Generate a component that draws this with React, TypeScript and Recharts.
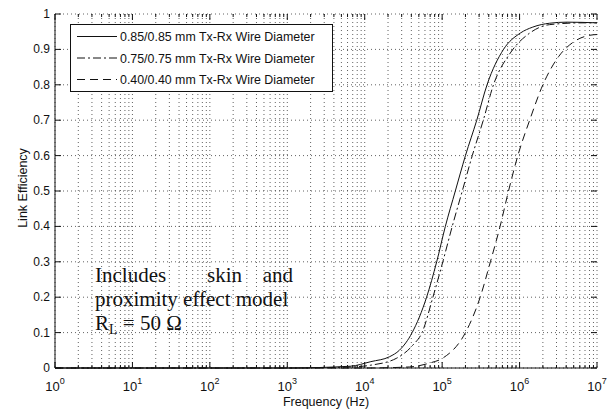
import React from 'react';
import { LineChart, Line, XAxis, YAxis, CartesianGrid } from 'recharts';

// ---- data (frequency in Hz, link efficiency) ----
const solidFreq = [1, 1e3, 6.5e3, 1.2e4, 2.1e4, 2.8e4, 4.1e4, 6.3e4, 8.5e4, 1.1e5, 1.48e5, 2.0e5, 2.8e5, 3.8e5, 6.2e5, 1.02e6, 1.48e6, 2.45e6, 4.1e6, 1e7];
const solidEff = [0, 0, 0.005, 0.018, 0.032, 0.05, 0.1, 0.2, 0.3, 0.4, 0.5, 0.6, 0.7, 0.8, 0.9, 0.946, 0.963, 0.974, 0.977, 0.975];

const dashDotFreq = [1, 1e3, 7e3, 1.2e4, 2.6e4, 4.2e4, 5.5e4, 7.6e4, 1.02e5, 1.35e5, 1.82e5, 2.45e5, 3.4e5, 4.6e5, 7.6e5, 1.35e6, 2.45e6, 6.6e6, 1e7];
const dashDotEff = [0, 0, 0.003, 0.008, 0.028, 0.065, 0.1, 0.2, 0.3, 0.4, 0.5, 0.6, 0.7, 0.8, 0.89, 0.946, 0.97, 0.975, 0.975];

const dashedFreq = [1, 1e3, 1e4, 3.8e4, 6.9e4, 1.02e5, 2.0e5, 3.1e5, 4.2e5, 5.6e5, 7.2e5, 9.5e5, 1.35e6, 2.0e6, 3.2e6, 4.9e6, 8.1e6, 1e7];
const dashedEff = [0, 0, 0, 0.003, 0.014, 0.028, 0.1, 0.2, 0.3, 0.4, 0.5, 0.6, 0.7, 0.8, 0.88, 0.92, 0.94, 0.942];

const seriesNames = [
  '0.85/0.85 mm Tx-Rx Wire Diameter',
  '0.75/0.75 mm Tx-Rx Wire Diameter',
  '0.40/0.40 mm Tx-Rx Wire Diameter',
];

const decades = [1, 10, 100, 1000, 1e4, 1e5, 1e6];
const mantissas = [1, 2, 3, 4, 5, 6, 7, 8, 9];
const xTicks = [...decades.flatMap((d) => mantissas.map((m) => m * d)), 1e7];
const yTicks = [0, 0.1, 0.2, 0.3, 0.4, 0.5, 0.6, 0.7, 0.8, 0.9, 1];
const yTickLabels = ['0', '0.1', '0.2', '0.3', '0.4', '0.5', '0.6', '0.7', '0.8', '0.9', '1'];

const toData = (fs: number[], vs: number[]) => fs.map((f, i) => ({ f, v: vs[i] }));
const solidData = toData(solidFreq, solidEff);
const dashDotData = toData(dashDotFreq, dashDotEff);
const dashedData = toData(dashedFreq, dashedEff);

// ---- layout ----
const W = 608;
const H = 412;
const PLOT_TOP = 14;
const PLOT_BOTTOM = 368;
const PLOT_LEFT = 55;
const PLOT_RIGHT = 597;
const SANS = '"Liberation Sans", Arial, Helvetica, sans-serif';
const SERIF = '"Liberation Serif", "Times New Roman", serif';
const INK = '#111';

const XTick = (props: any) => {
  const { x, payload } = props;
  const v = payload.value as number;
  const lg = Math.log10(v);
  const exp = Math.round(lg);
  const major = Math.abs(lg - exp) < 1e-6;
  const len = major ? 6 : 3;
  return (
    <g>
      <line x1={x} y1={PLOT_BOTTOM} x2={x} y2={PLOT_BOTTOM - len} stroke={INK} strokeWidth={1} />
      <line x1={x} y1={PLOT_TOP} x2={x} y2={PLOT_TOP + len} stroke={INK} strokeWidth={1} />
      {major && (
        <text x={x} y={391} textAnchor="middle" fontFamily={SANS} fontSize={13} fill={INK}>
          <tspan>10</tspan>
          <tspan dy={-7} fontSize={9}>{String(exp)}</tspan>
        </text>
      )}
    </g>
  );
};

const YTick = (props: any) => {
  const { y, payload } = props;
  const idx = yTicks.findIndex((t) => Math.abs(t - payload.value) < 1e-9);
  return (
    <g>
      <line x1={PLOT_LEFT} y1={y} x2={PLOT_LEFT + 6} y2={y} stroke={INK} strokeWidth={1} />
      <line x1={PLOT_RIGHT} y1={y} x2={PLOT_RIGHT - 6} y2={y} stroke={INK} strokeWidth={1} />
      <text x={PLOT_LEFT - 5} y={y + 4} textAnchor="end" fontFamily={SANS} fontSize={12} fill={INK}>
        {idx >= 0 ? yTickLabels[idx] : ''}
      </text>
    </g>
  );
};

const legendStyles = [
  { dash: undefined as string | undefined },
  { dash: '8 3 2 3' },
  { dash: '8 5' },
];

export default function App() {
  return (
    <div style={{ position: 'absolute', left: 0, top: 0, width: W, height: H, background: '#fff' }}>
      <LineChart
        width={W}
        height={H}
        margin={{ top: PLOT_TOP, right: W - PLOT_RIGHT, bottom: 14, left: 5 }}
        style={{ background: '#fff' }}
      >
        <CartesianGrid stroke="#3a3a3a" strokeDasharray="1 3" strokeWidth={0.8} />
        <XAxis
          dataKey="f"
          type="number"
          scale="log"
          domain={[1, 1e7]}
          allowDataOverflow
          ticks={xTicks}
          interval={0}
          tick={<XTick />}
          tickLine={false}
          axisLine={{ stroke: INK, strokeWidth: 1 }}
          height={30}
          label={{
            content: (p: any) => {
              const vb = p.viewBox || { x: PLOT_LEFT, width: PLOT_RIGHT - PLOT_LEFT };
              return (
                <text x={vb.x + vb.width / 2} y={406} textAnchor="middle" fontFamily={SANS} fontSize={12.5} fill={INK}>
                  Frequency (Hz)
                </text>
              );
            },
          }}
        />
        <XAxis
          xAxisId="top"
          orientation="top"
          dataKey="f"
          type="number"
          scale="log"
          domain={[1, 1e7]}
          allowDataOverflow
          tick={false}
          tickLine={false}
          height={0}
          axisLine={{ stroke: INK, strokeWidth: 1 }}
        />
        <YAxis
          type="number"
          domain={[0, 1]}
          ticks={yTicks}
          interval={0}
          tick={<YTick />}
          tickLine={false}
          axisLine={{ stroke: INK, strokeWidth: 1 }}
          width={50}
          label={{
            content: (p: any) => {
              const vb = p.viewBox || { y: PLOT_TOP, height: PLOT_BOTTOM - PLOT_TOP };
              const cy = vb.y + vb.height / 2 - 3;
              return (
                <text
                  x={27}
                  y={cy}
                  transform={`rotate(-90 27 ${cy})`}
                  textAnchor="middle"
                  fontFamily={SANS}
                  fontSize={12.5}
                  fill={INK}
                >
                  Link Efficiency
                </text>
              );
            },
          }}
        />
        <YAxis
          yAxisId="right"
          orientation="right"
          type="number"
          domain={[0, 1]}
          tick={false}
          tickLine={false}
          width={0}
          axisLine={{ stroke: INK, strokeWidth: 1 }}
        />
        <Line data={solidData} dataKey="v" name={seriesNames[0]} type="monotone" dot={false} stroke={INK} strokeWidth={1} isAnimationActive={false} />
        <Line data={dashDotData} dataKey="v" name={seriesNames[1]} type="monotone" dot={false} stroke={INK} strokeWidth={1} strokeDasharray="8 3 2 3" isAnimationActive={false} />
        <Line data={dashedData} dataKey="v" name={seriesNames[2]} type="monotone" dot={false} stroke={INK} strokeWidth={1} strokeDasharray="8 5" isAnimationActive={false} />
      </LineChart>

      <svg width={W} height={H} style={{ position: 'absolute', left: 0, top: 0, pointerEvents: 'none' }}>
        {/* legend */}
        <rect x={70.5} y={24.5} width={262} height={67} fill="#fff" stroke={INK} strokeWidth={1} />
        {seriesNames.map((name, i) => {
          const by = 41 + i * 21.5;
          return (
            <g key={name}>
              <line x1={77} y1={by - 4.5} x2={117} y2={by - 4.5} stroke={INK} strokeWidth={1} strokeDasharray={legendStyles[i].dash} />
              <text x={120} y={by} fontFamily={SANS} fontSize={12.4} fill={INK}>
                {name}
              </text>
            </g>
          );
        })}
        {/* annotation */}
        <g fontFamily={SERIF} fontSize={21} fill={INK}>
          <text x={95} y={282}>Includes</text>
          <text x={207} y={282}>skin</text>
          <text x={293} y={282} textAnchor="end">and</text>
          <text x={95} y={306}>proximity effect model</text>
          <text x={95} y={330}>
            <tspan>R</tspan>
            <tspan fontSize={14} dy={4}>L</tspan>
            <tspan dy={-4}> = 50 Ω</tspan>
          </text>
        </g>
      </svg>
    </div>
  );
}
